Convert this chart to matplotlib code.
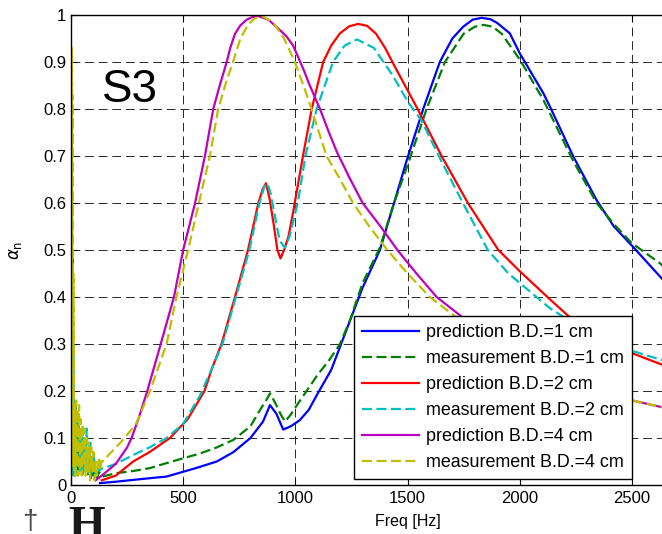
import matplotlib
matplotlib.use("Agg")
import matplotlib.pyplot as plt

plt.rcParams['font.family'] = ['Liberation Sans', 'DejaVu Sans']

# ---- data (freq in Hz, normalised absorption) ----
pred1_f = [129, 200, 300, 426, 550, 650, 724, 800, 856, 887, 915, 946, 980, 1020, 1060, 1100,
           1160, 1228, 1300, 1377, 1440, 1496, 1570, 1644, 1700, 1748, 1790, 1830, 1870, 1900,
           1956, 2001, 2105, 2135, 2238, 2343, 2420, 2499, 2640]
pred1_a = [0.004, 0.007, 0.012, 0.018, 0.035, 0.05, 0.07, 0.1, 0.135, 0.17, 0.152, 0.118, 0.125,
           0.138, 0.16, 0.195, 0.245, 0.33, 0.42, 0.5, 0.6, 0.69, 0.8, 0.9, 0.95, 0.975, 0.99,
           0.994, 0.991, 0.983, 0.961, 0.918, 0.834, 0.805, 0.70, 0.606, 0.55, 0.51, 0.436]

meas1_f = [0, 2, 4, 6, 8, 11, 14, 17, 20, 24, 28, 32, 37, 42, 47, 52, 58, 64, 70, 76, 82, 88,
           94, 100, 108, 116, 124, 132,
           140, 200, 280, 352, 450, 575, 650, 724, 800, 843, 870, 887, 910, 935, 954, 980, 1000,
           1050, 1100, 1150, 1199, 1243, 1300, 1377, 1440, 1500, 1585, 1667, 1750, 1800, 1838,
           1880, 1920, 2001, 2105, 2238, 2343, 2420, 2499, 2625, 2640]
meas1_a = [0.81, 0.02, 0.78, 0.03, 0.5, 0.02, 0.18, 0.02, 0.17, 0.03, 0.15, 0.02, 0.12, 0.03,
           0.1, 0.02, 0.09, 0.03, 0.07, 0.02, 0.06, 0.01, 0.05, 0.02, 0.04, 0.01, 0.03, 0.02,
           0.018, 0.025, 0.03, 0.036, 0.05, 0.067, 0.08, 0.096, 0.125, 0.16, 0.18, 0.195, 0.175,
           0.15, 0.135, 0.15, 0.165, 0.2, 0.235, 0.265, 0.3, 0.35, 0.43, 0.505, 0.6, 0.68, 0.8,
           0.9, 0.96, 0.975, 0.979, 0.975, 0.96, 0.905, 0.82, 0.69, 0.6, 0.555, 0.515, 0.472, 0.465]

pred2_f = [137, 200, 277, 350, 441, 520, 595, 630, 671, 731, 789, 835, 855, 869, 885, 905, 920,
           934, 950, 970, 990, 1034, 1073, 1124, 1160, 1199, 1240, 1280, 1320, 1360, 1400, 1436,
           1545, 1652, 1769, 1905, 2000, 2090, 2135, 2237, 2350, 2504, 2640]
pred2_a = [0.01, 0.02, 0.05, 0.07, 0.1, 0.14, 0.2, 0.25, 0.3, 0.4, 0.5, 0.6, 0.63, 0.642, 0.61,
           0.55, 0.5, 0.482, 0.5, 0.53, 0.58, 0.7, 0.8, 0.9, 0.935, 0.961, 0.976, 0.981, 0.977,
           0.96, 0.93, 0.897, 0.8, 0.7, 0.6, 0.5, 0.455, 0.415, 0.395, 0.351, 0.315, 0.28, 0.255]

meas2_f = [0, 2, 4, 7, 10, 13, 16, 20, 25, 30, 35, 40, 46, 52, 58, 64, 70, 78, 86, 94, 102, 110,
           118, 126, 134,
           140, 200, 278, 350, 426, 500, 575, 630, 675, 735, 795, 840, 862, 875, 890, 910, 930,
           954, 975, 1013, 1045, 1095, 1168, 1220, 1275, 1350, 1436, 1502, 1563, 1650, 1747,
           1858, 1950, 2050, 2135, 2237, 2350, 2504, 2640]
meas2_a = [0.7, 0.02, 0.6, 0.03, 0.3, 0.02, 0.16, 0.03, 0.15, 0.02, 0.13, 0.03, 0.11, 0.02, 0.1,
           0.03, 0.12, 0.02, 0.09, 0.03, 0.06, 0.02, 0.04, 0.03, 0.035,
           0.035, 0.045, 0.064, 0.08, 0.1, 0.13, 0.19, 0.25, 0.3, 0.4, 0.5, 0.6, 0.635, 0.642,
           0.62, 0.57, 0.52, 0.505, 0.53, 0.606, 0.7, 0.8, 0.9, 0.935, 0.948, 0.93, 0.87, 0.815,
           0.775, 0.69, 0.6, 0.5, 0.45, 0.41, 0.376, 0.345, 0.315, 0.285, 0.265]

pred4_f = [110, 150, 200, 250, 270, 300, 340, 400, 459, 500, 553, 597, 634, 660, 694, 710, 731,
           755, 783, 805, 833, 880, 931, 960, 990, 1013, 1040, 1060, 1110, 1150, 1184, 1240,
           1300, 1380, 1455, 1540, 1630, 1750, 1900, 2050, 2200, 2350, 2500, 2640]
pred4_a = [0.01, 0.025, 0.045, 0.08, 0.1, 0.14, 0.2, 0.3, 0.4, 0.5, 0.6, 0.7, 0.8, 0.845, 0.9,
           0.93, 0.96, 0.978, 0.99, 0.995, 0.998, 0.99, 0.968, 0.955, 0.935, 0.91, 0.88, 0.855,
           0.8, 0.75, 0.71, 0.655, 0.6, 0.55, 0.5, 0.45, 0.4, 0.355, 0.3, 0.26, 0.23, 0.2, 0.18,
           0.165]

meas4_f = [1, 3, 5, 7, 9, 11, 14, 17, 20, 23, 26, 29, 32, 36, 40, 44, 48, 52, 56, 60, 65, 70,
           75, 80, 85, 90, 95, 100, 105, 110, 115, 120, 125, 130, 135,
           140, 180, 230, 290, 352, 426, 470, 522, 570, 619, 656, 690, 722, 755, 790, 820, 850,
           900, 950, 998, 1040, 1072, 1139, 1200, 1257, 1330, 1410, 1500, 1600, 1750, 1900,
           2050, 2200, 2350, 2500, 2640]
meas4_a = [0.05, 0.93, 0.04, 0.83, 0.06, 0.45, 0.03, 0.17, 0.02, 0.18, 0.04, 0.16, 0.02, 0.17,
           0.03, 0.14, 0.02, 0.13, 0.04, 0.12, 0.02, 0.1, 0.03, 0.09, 0.01, 0.08, 0.03, 0.07,
           0.01, 0.05, 0.02, 0.04, 0.06, 0.03, 0.05,
           0.05, 0.07, 0.095, 0.13, 0.2, 0.3, 0.4, 0.5, 0.6, 0.7, 0.8, 0.855, 0.9, 0.95, 0.98,
           0.993, 0.998, 0.985, 0.95, 0.9, 0.845, 0.8, 0.7, 0.65, 0.6, 0.55, 0.5, 0.45, 0.4,
           0.345, 0.295, 0.255, 0.225, 0.2, 0.18, 0.165]

labels = ["prediction B.D.=1 cm", "measurement B.D.=1 cm",
          "prediction B.D.=2 cm", "measurement B.D.=2 cm",
          "prediction B.D.=4 cm", "measurement B.D.=4 cm"]
x_ticks = [0, 500, 1000, 1500, 2000, 2500]
y_ticks = [0, 0.1, 0.2, 0.3, 0.4, 0.5, 0.6, 0.7, 0.8, 0.9, 1]
y_tick_labels = ["0", "0.1", "0.2", "0.3", "0.4", "0.5", "0.6", "0.7", "0.8", "0.9", "1"]

fig = plt.figure(figsize=(6.62, 5.34), dpi=100)
# axes run past the right edge, as in the cropped original
ax = fig.add_axes([71 / 662, 49 / 534, 673 / 662, 470 / 534])

dash = (0, (4.5, 2))
series = [
    (pred1_f, pred1_a, "#0000ff", "-"),
    (meas1_f, meas1_a, "#008000", dash),
    (pred2_f, pred2_a, "#ff0000", "-"),
    (meas2_f, meas2_a, "#00bfbf", dash),
    (pred4_f, pred4_a, "#bf00bf", "-"),
    (meas4_f, meas4_a, "#bfbf00", dash),
]
for (f, a, c, ls), lab in zip(series, labels):
    ax.plot(f, a, color=c, linestyle=ls, linewidth=1.6, label=lab)

ax.set_xlim(0, 3000)
ax.set_ylim(0, 1)
ax.set_xticks(x_ticks)
ax.set_yticks(y_ticks)
ax.set_yticklabels(y_tick_labels)
ax.tick_params(direction="in", length=4, labelsize=12, top=True, right=True)
ax.tick_params(axis="x", pad=4)
ax.grid(True, color="0.15", linestyle=(0, (9, 5)), linewidth=0.7)
for s in ax.spines.values():
    s.set_linewidth(1.0)

ax.set_xlabel("Freq [Hz]", fontsize=11.5, labelpad=6)
ax.set_ylabel(r"$\alpha_\mathrm{n}$", fontsize=12, labelpad=14)

ax.text(140, 0.815, "S3", fontsize=33, va="baseline", ha="left")

leg = ax.legend(loc="lower right", bbox_to_anchor=(0.8336, 0.0128), borderaxespad=0,
                fontsize=12.9, fancybox=False, framealpha=1, edgecolor="black",
                handlelength=3.2, handletextpad=0.4, labelspacing=0.5, borderpad=0.45)
leg.get_frame().set_linewidth(1.0)

# scanned page remnants below the axes
fig.text(30 / 662, 1 - 535 / 534, "\u2020", fontsize=20, color="0.3", ha="center", va="bottom")
fig.text(68 / 662, 1 - 506 / 534, "H", fontsize=34, fontweight="bold",
         family="Liberation Serif", color="0.1", ha="left", va="top")

fig.savefig("out.png", dpi=100)
